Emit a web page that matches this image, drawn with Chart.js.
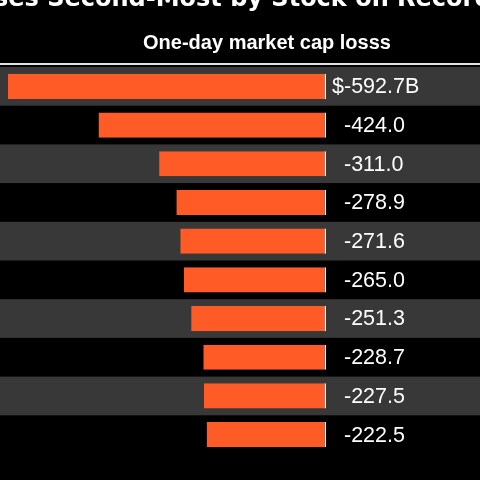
<!DOCTYPE html>
<html>
<head>
<meta charset="utf-8">
<script src="https://cdn.jsdelivr.net/npm/chart.js@4"></script>
<style>
  html, body { margin: 0; padding: 0; background: #000; }
  #wrap { width: 480px; height: 480px; }
</style>
</head>
<body>
<div id="wrap"><canvas id="myChart" width="480" height="480"></canvas></div>
<script>
// chart data
const categories = ['1', '2', '3', '4', '5', '6', '7', '8', '9', '10'];
const losses = [-592.7, -424.0, -311.0, -278.9, -271.6, -265.0, -251.3, -228.7, -227.5, -222.5];
const valueLabels = ['-592.7B', '-424.0', '-311.0', '-278.9', '-271.6', '-265.0', '-251.3', '-228.7', '-227.5', '-222.5'];
const titleText = 'ses Second-Most by Stock on Record';
const subtitleText = 'One-day market cap losss';

const ORANGE = '#ff5b26';
const STRIPE = '#383838';

// background, stripes and header text
const backdrop = {
    id: 'backdrop',
    beforeDraw(chart) {
        const { ctx, width, scales: { y } } = chart;
        ctx.save();
        ctx.fillStyle = '#000';
        ctx.fillRect(0, 0, width, chart.height);
        const step = y.getPixelForValue(1) - y.getPixelForValue(0);
        categories.forEach((c, i) => {
            if (i % 2 !== 0) return;
            const yc = y.getPixelForValue(i);
            ctx.fillStyle = STRIPE;
            ctx.fillRect(0, yc - step / 2, width, step);
        });
        // rule under the subtitle
        ctx.fillStyle = '#e0e0e0';
        ctx.fillRect(0, 63, width, 2);

        ctx.fillStyle = '#fff';
        ctx.textBaseline = 'alphabetic';
        ctx.font = 'bold 24px "DejaVu Sans"';
        ctx.textAlign = 'left';
        ctx.fillText(titleText, -6, 6);
        ctx.font = 'bold 20px "Liberation Sans"';
        ctx.textAlign = 'center';
        ctx.fillText(subtitleText, 267, 49);
        ctx.restore();
    }
};

// value labels to the right of the zero line
const valueText = {
    id: 'valueText',
    afterDatasetsDraw(chart) {
        const { ctx, scales: { y } } = chart;
        ctx.save();
        ctx.fillStyle = '#fff';
        ctx.font = '21.5px "Liberation Sans"';
        ctx.textBaseline = 'middle';
        valueLabels.forEach((t, i) => {
            const yc = y.getPixelForValue(i) + 1;
            ctx.textAlign = 'left';
            ctx.fillText(t, 344, yc);
            if (i === 0) {
                ctx.textAlign = 'right';
                ctx.fillText('$', 344, yc);
            }
        });
        ctx.restore();
    }
};

new Chart(document.getElementById('myChart'), {
    type: 'bar',
    data: {
        labels: categories,
        datasets: [{
            data: losses,
            backgroundColor: ORANGE,
            borderColor: '#f0f0f0',
            borderWidth: { top: 0, bottom: 0, left: 0, right: 1.5 },
            borderSkipped: false,
            categoryPercentage: 1,
            barPercentage: 0.65
        }]
    },
    options: {
        indexAxis: 'y',
        responsive: false,
        animation: false,
        layout: { padding: { left: 8, right: 154, top: 67, bottom: 26 } },
        plugins: {
            legend: { display: false },
            tooltip: { enabled: false }
        },
        scales: {
            x: { display: false, min: -592.7, max: 0 },
            y: { display: false }
        }
    },
    plugins: [backdrop, valueText]
});
</script>
</body>
</html>
